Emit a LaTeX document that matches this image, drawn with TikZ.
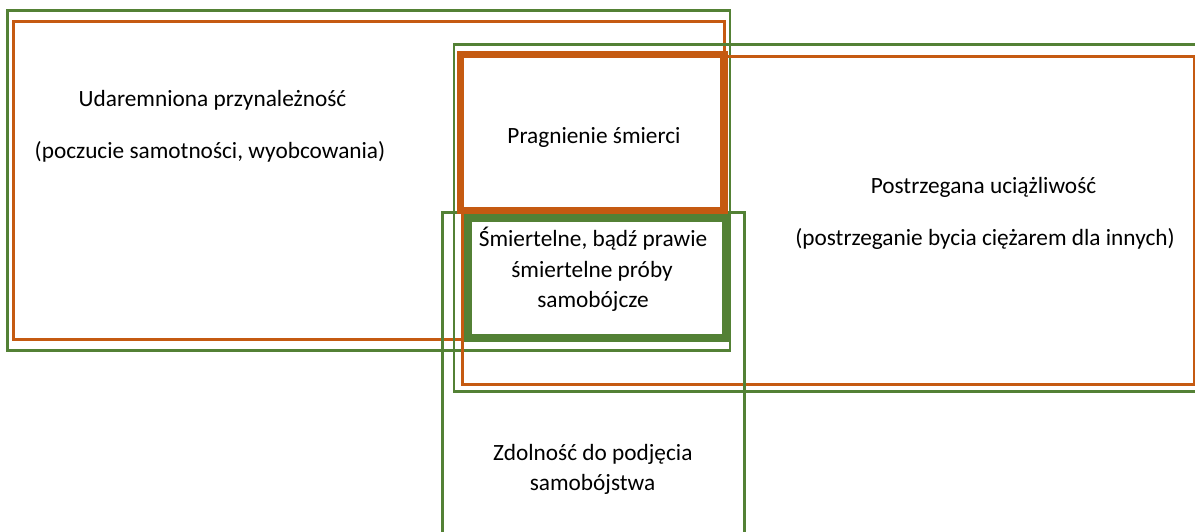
\documentclass[tikz,border=0pt]{standalone}
\usepackage{fontspec}
\setmainfont{Carlito}
\definecolor{dorange}{HTML}{C55A11}
\definecolor{dgreen}{HTML}{538135}
\begin{document}
\begin{tikzpicture}[x=1pt,y=-1pt,
  thinor/.style={draw=dorange,line width=3pt},
  thingr/.style={draw=dgreen,line width=2.8pt},
  thickor/.style={draw=dorange,line width=7.7pt},
  thickgr/.style={draw=dgreen,line width=8pt},
  lbl/.style={anchor=base,inner sep=0pt,font=\fontsize{23.3}{28}\selectfont}]
\useasboundingbox (0,0) rectangle (1195,531);
% thin rectangles
\draw[thingr] (7.3,10.7) rectangle (730,350.7);
\draw[thinor] (13,21) rectangle (724,339.5);
\draw[thingr] (454,44.5) rectangle (1205,391.3);
\draw[thinor] (462,56.5) rectangle (1194,384.7);
\draw[thingr] (442.5,212.7) rectangle (744.3,540);
% thick rectangles
\draw[thickor] (460.5,54.5) rectangle (724.2,210.5);
\draw[thickgr] (467.5,218) rectangle (726,337.5);
% texts
\node[lbl] (u1) at (212.5,106) {Udaremniona przynależność};
\node[lbl] (u2) at (210,158) {(poczucie samotności, wyobcowania)};
\node[lbl] (p1) at (594,143) {Pragnienie śmierci};
\node[lbl] (o1) at (983.5,193) {Postrzegana uciążliwość};
\node[lbl] (o2) at (985,245) {(postrzeganie bycia ciężarem dla innych)};
\node[lbl] (s1) at (593,246.7) {Śmiertelne, bądź prawie};
\node[lbl] (s2) at (592,277.5) {śmiertelne próby};
\node[lbl] (s3) at (593,307.3) {samobójcze};
\node[lbl] (z1) at (592.8,460.7) {Zdolność do podjęcia};
\node[lbl] (z2) at (592.5,490.7) {samobójstwa};
\end{tikzpicture}
\end{document}
